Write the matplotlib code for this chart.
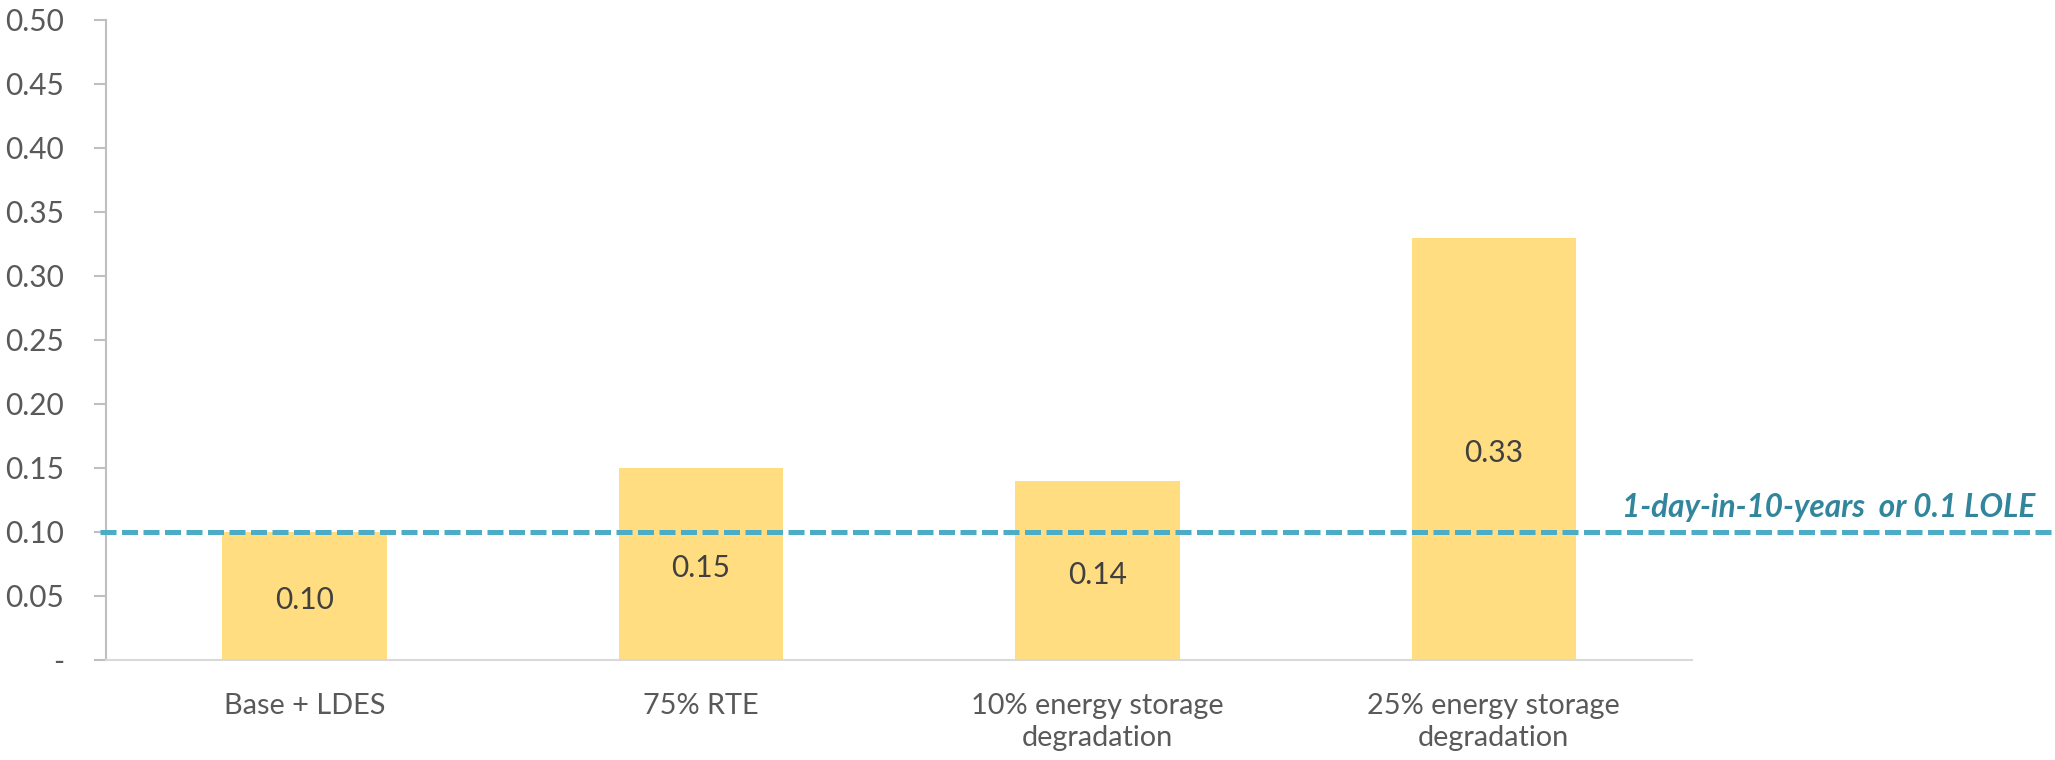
import matplotlib.pyplot as plt
from matplotlib.transforms import blended_transform_factory

plt.rcParams['font.family'] = ['Lato', 'DejaVu Sans']

# LOLE by scenario
scenarios = ["Base + LDES", "75% RTE", "10% energy storage\ndegradation",
             "25% energy storage\ndegradation"]
lole = [0.10, 0.15, 0.14, 0.33]
threshold = 0.1
threshold_label = "1-day-in-10-years  or 0.1 LOLE"
yticks = [0, 0.05, 0.10, 0.15, 0.20, 0.25, 0.30, 0.35, 0.40, 0.45, 0.50]
ytick_labels = ["-"] + ["%.2f" % t for t in yticks[1:]]

fig = plt.figure(figsize=(20.55, 7.6), dpi=100)
ax = fig.add_axes([0.0516, 0.1316, 0.7718, 0.8421])

x = list(range(len(scenarios)))
ax.bar(x, lole, width=0.415, color="#FFDD80", zorder=2)
# value labels in the middle of each bar
for xi, v in zip(x, lole):
    ax.annotate("%.2f" % v, (xi, v / 2), xytext=(0, -3),
                textcoords="offset points", ha="center", va="center",
                fontsize=21.5, color="#404040", zorder=4)

ax.set_xlim(-0.5, len(scenarios) - 0.5)
ax.set_ylim(0, 0.5)
ax.set_yticks(yticks)
ax.set_yticklabels(ytick_labels)
ax.set_xticks(x)
ax.set_xticklabels(scenarios, linespacing=1.25)

for side in ["top", "right"]:
    ax.spines[side].set_visible(False)
ax.spines["left"].set_color("#BFBFBF")
ax.spines["left"].set_linewidth(1.5)
ax.spines["bottom"].set_color("#D9D9D9")
ax.spines["bottom"].set_linewidth(1.5)
ax.tick_params(axis="y", length=9, width=1.5, color="#BFBFBF", pad=21,
               labelsize=21.5, labelcolor="#595959")
ax.tick_params(axis="x", length=0, pad=24, labelsize=20.8, labelcolor="#595959")

# threshold line runs past the plot area to the right edge
trans = blended_transform_factory(fig.transFigure, ax.transData)
ax.plot([100 / 2055, 1.0], [threshold, threshold], transform=trans,
        color="#4BACC6", linewidth=3.6, dashes=(3.2, 1.1), clip_on=False,
        zorder=3)
fig.text(2035 / 2055, 1 - 508 / 760, threshold_label, ha="right",
         va="center", fontsize=22.7, fontweight="bold", fontstyle="italic",
         color="#31859C")

fig.savefig("out.png", dpi=100)
